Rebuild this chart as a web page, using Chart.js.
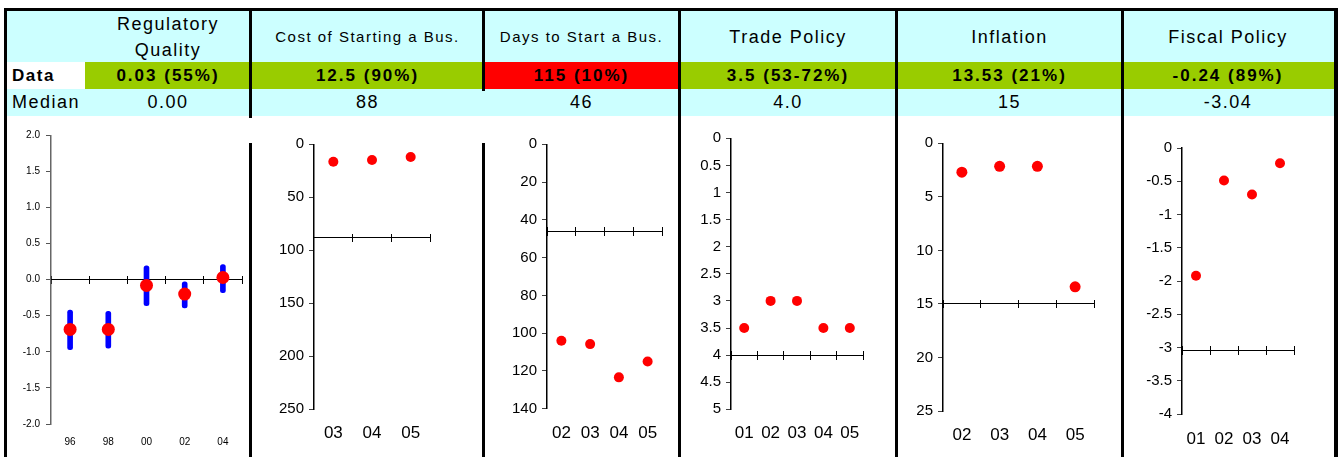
<!DOCTYPE html>
<html><head><meta charset="utf-8">
<script src="https://cdn.jsdelivr.net/npm/chart.js@4"></script>
<style>
html,body{margin:0;padding:0;background:#fff;width:1338px;height:457px;overflow:hidden;font-family:"Liberation Sans",Arial,sans-serif;position:relative;}
.cell{position:absolute;display:flex;align-items:center;justify-content:center;color:#000;white-space:pre-line;text-align:center;box-sizing:border-box;}
.ln{position:absolute;background:#000;z-index:5;}
canvas{position:absolute;z-index:3;}
</style></head><body>
<script>
// ---------- DATA ----------
const titles = ['Regulatory\nQuality', 'Cost of Starting a Bus.', 'Days to Start a Bus.', 'Trade Policy', 'Inflation', 'Fiscal Policy'];
const dataTexts = ['0.03 (55%)', '12.5 (90%)', '115 (10%)', '3.5 (53-72%)', '13.53 (21%)', '-0.24 (89%)'];
const dataColors = ['#99CC00', '#99CC00', '#FF0000', '#99CC00', '#99CC00', '#99CC00'];
const medianTexts = ['0.00', '88', '46', '4.0', '15', '-3.04'];

const p1Labels = ['96', '98', '00', '02', '04'];
const p1Values = [-0.69, -0.69, -0.08, -0.20, 0.03];
const p1Low = [-0.97, -0.95, -0.36, -0.39, -0.18];
const p1High = [-0.42, -0.44, 0.19, -0.03, 0.21];
const p1Median = 0;

const p2Labels = ['03', '04', '05'];
const p2Values = [16.4, 14.8, 12.0];
const p2Median = 88;

const p3Labels = ['02', '03', '04', '05'];
const p3Values = [104, 105.8, 123.4, 115];
const p3Median = 46;

const p4Labels = ['01', '02', '03', '04', '05'];
const p4Values = [3.5, 3, 3, 3.5, 3.5];
const p4Median = 4.0;

const p5Labels = ['02', '03', '04', '05'];
const p5Values = [2.7, 2.15, 2.15, 13.4];
const p5Median = 15;

const p6Labels = ['01', '02', '03', '04'];
const p6Values = [-1.92, -0.49, -0.70, -0.23];
const p6Median = -3.04;

// y ranges: [min, max, step, reversed]
const p1Range = [-2, 2, 0.5, false];
const p2Range = [0, 250, 50, true];
const p3Range = [0, 140, 20, true];
const p4Range = [0, 5, 0.5, true];
const p5Range = [0, 25, 5, true];
const p6Range = [-4, 0, 0.5, false];

// ---------- LAYOUT ----------
const FONT = '"Liberation Sans", Arial, sans-serif';
const COLS = [[85, 251], [251, 484], [484, 679], [679, 897], [897, 1122], [1122, 1334]];
const titleSizes = [18, 15, 15, 18, 18, 18];

function box(cls, l, t, w, h, bg, html, style) {
  const d = document.createElement('div');
  d.className = cls;
  d.style.left = l + 'px'; d.style.top = t + 'px';
  d.style.width = w + 'px'; d.style.height = h + 'px';
  if (bg) d.style.background = bg;
  if (html !== undefined) d.textContent = html;
  if (style) Object.assign(d.style, style);
  document.body.appendChild(d);
  return d;
}

// rows backgrounds
box('cell', 6, 11, 1328, 51, '#CCFFFF');
box('cell', 6, 89, 1328, 27, '#CCFFFF');
box('cell', 6, 62, 79, 27, '#FFFFFF', 'Data', {fontWeight: 'bold', fontSize: '17px', letterSpacing: '1.5px', justifyContent: 'flex-start', paddingLeft: '6px'});
box('cell', 6, 89, 79, 27, null, 'Median', {fontSize: '18px', letterSpacing: '1.5px', justifyContent: 'flex-start', paddingLeft: '6px'});
COLS.forEach((c, i) => {
  const w = c[1] - c[0];
  box('cell', c[0], 11, w, 51, null, titles[i], {fontSize: titleSizes[i] + 'px', letterSpacing: '1.5px', lineHeight: '26px'});
  box('cell', c[0], 62, w, 27, dataColors[i], dataTexts[i], {fontSize: '17px', fontWeight: 'bold', letterSpacing: '2px'});
  box('cell', c[0], 89, w, 27, null, medianTexts[i], {fontSize: '18px', letterSpacing: '1.5px'});
});

// borders / dividers
box('ln', 4, 8, 1334, 3);
box('ln', 4, 8, 3, 449);
box('ln', 1334, 8, 4, 449);
box('ln', 249, 8, 3, 110);
box('ln', 249, 143, 3, 314);
box('ln', 482, 8, 3, 83);
box('ln', 482, 143, 3, 314);
box('ln', 678, 8, 3, 449);
box('ln', 895, 8, 3, 449);
box('ln', 1121, 8, 3, 449);

// ---------- CHARTS ----------
const GEOM = [
  {axisX: 51, right: 242, top: 135.3, bottom: 424, labelY: 442, yW: 40},
  {axisX: 314, right: 430, top: 144.3, bottom: 409.3, labelY: 433, yW: 50},
  {axisX: 547, right: 662, top: 144.3, bottom: 408.7, labelY: 433, yW: 50},
  {axisX: 731, right: 863, top: 138.3, bottom: 409.3, labelY: 433, yW: 50},
  {axisX: 943, right: 1094, top: 143.3, bottom: 411, labelY: 435, yW: 50},
  {axisX: 1182, right: 1294, top: 148, bottom: 414, labelY: 439, yW: 50}
];

const plainFmt = v => String(+Number(v).toFixed(3));

function makeChart(g, labels, datasets, range, median, o) {
  const c = document.createElement('canvas');
  const top = 118, height = 457 - 118;
  const left = g.axisX - g.yW;
  const width = Math.round(g.right - left + 14);
  c.width = width; c.height = height;
  c.style.left = left + 'px'; c.style.top = top + 'px';
  c.style.width = width + 'px'; c.style.height = height + 'px';
  document.body.appendChild(c);
  const yTicks = {stepSize: range[2], color: '#000', padding: o.yPad, autoSkip: false,
                  font: {family: FONT, size: o.yFont}, callback: o.yFmt || plainFmt};
  const scales = {
    x: {
      type: 'category', position: 'bottom', offset: true,
      grid: {display: false, drawTicks: false}, border: {display: false},
      ticks: {color: '#000', font: {family: FONT, size: o.xFont}, padding: g.labelY - g.bottom - 0.6 * o.xFont, maxRotation: 0, autoSkip: false},
      afterFit: s => { s.height = 457 - g.bottom; }
    },
    y: {
      type: 'linear', position: 'left', min: range[0], max: range[1], reverse: range[3],
      ticks: yTicks,
      grid: {display: true, drawOnChartArea: false, drawTicks: true, tickLength: 5, color: o.tickColor, lineWidth: 1},
      border: {display: true, color: o.axisColor, width: 1.5},
      afterFit: s => { s.width = g.yW; }
    },
    xm: {
      axis: 'x', type: 'category', labels: labels, position: {y: median}, offset: true,
      grid: {offset: true, drawOnChartArea: false, drawTicks: true, tickLength: 4, color: '#000', lineWidth: 1},
      border: {display: true, color: '#000', width: 1},
      ticks: {display: false}
    },
    xm2: {
      axis: 'x', type: 'category', labels: labels, position: {y: median}, offset: true,
      grid: {offset: true, drawOnChartArea: false, drawTicks: true, tickLength: -4, color: '#000', lineWidth: 1},
      border: {display: false},
      ticks: {display: false}
    }
  };
  new Chart(c, {
    type: 'line',
    data: {labels: labels, datasets: datasets},
    options: {
      responsive: false, animation: false,
      layout: {padding: {top: g.top - top, right: width - (g.right - left), left: 0, bottom: 0}},
      plugins: {legend: {display: false}, tooltip: {enabled: false}},
      scales: scales
    }
  });
}

function pts(values, r) {
  return {type: 'line', data: values, showLine: false, pointRadius: r,
          pointBackgroundColor: '#FF0000', pointBorderWidth: 0};
}

const big = {yFont: 15, xFont: 17, yPad: 5, tickColor: '#404040', axisColor: '#000'};

makeChart(GEOM[0], p1Labels, [
  pts(p1Values, 6.5),
  {type: 'bar', data: p1Low.map((l, i) => [l, p1High[i]]), backgroundColor: '#0000FF', barThickness: 5,
   borderRadius: 3, borderSkipped: false}
], p1Range, p1Median, {yFont: 10, xFont: 10, yPad: 6, tickColor: '#555555', axisColor: '#666666',
   yFmt: v => Number(v).toFixed(1)});
makeChart(GEOM[1], p2Labels, [pts(p2Values, 5)], p2Range, p2Median, big);
makeChart(GEOM[2], p3Labels, [pts(p3Values, 5)], p3Range, p3Median, big);
makeChart(GEOM[3], p4Labels, [pts(p4Values, 5)], p4Range, p4Median, big);
makeChart(GEOM[4], p5Labels, [pts(p5Values, 5.5)], p5Range, p5Median, big);
makeChart(GEOM[5], p6Labels, [pts(p6Values, 5)], p6Range, p6Median, big);
</script>
</body></html>
